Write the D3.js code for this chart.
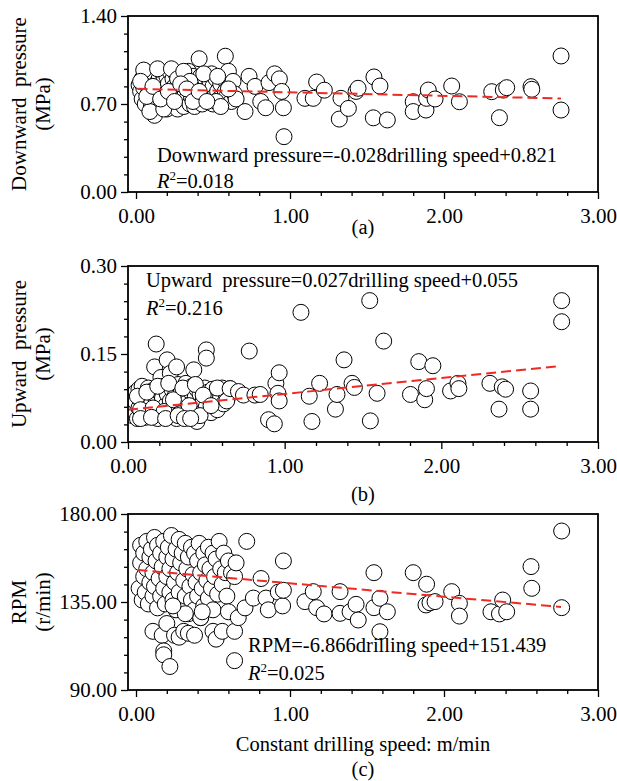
<!DOCTYPE html>
<html>
<head>
<meta charset="utf-8">
<script src="https://cdn.jsdelivr.net/npm/d3@7.9.0/dist/d3.min.js"></script>
<style>
  body { margin: 0; background: #fff; }
  svg text { font-family: "Liberation Serif", "Times New Roman", serif; fill: #000; }
</style>
</head>
<body>
<svg id="chart" width="617" height="781"></svg>
<script>
// [drilling speed (m/min), value]
const downward = [
  [0.02,0.85],[0.03,0.80],[0.04,0.90],[0.04,0.74],[0.05,0.83],[0.06,0.96],[0.06,0.70],[0.07,0.86],[0.08,0.78],[0.08,0.92],
  [0.09,0.82],[0.10,0.68],[0.10,0.88],[0.11,0.75],[0.12,0.94],[0.12,0.80],[0.12,0.61],[0.13,0.86],[0.14,0.72],[0.15,0.90],
  [0.15,0.78],[0.16,0.84],[0.17,0.95],[0.17,0.70],[0.18,0.88],[0.19,0.76],[0.19,0.82],[0.20,0.66],[0.20,0.92],[0.21,0.86],
  [0.22,0.74],[0.22,0.96],[0.23,0.80],[0.24,0.70],[0.24,0.90],[0.25,0.84],[0.26,0.76],[0.26,0.94],[0.27,0.66],[0.28,0.88],
  [0.28,0.80],[0.29,0.72],[0.30,0.92],[0.30,0.84],[0.31,0.68],[0.32,0.78],[0.32,0.88],[0.33,0.74],[0.34,0.96],[0.34,0.82],
  [0.35,0.70],[0.36,0.86],[0.36,0.76],[0.37,0.92],[0.38,0.80],[0.38,0.68],[0.39,0.88],[0.40,0.74],[0.40,0.84],[0.41,1.06],
  [0.42,0.78],[0.42,0.92],[0.43,0.70],[0.44,0.86],[0.45,0.76],[0.45,0.90],[0.46,0.82],[0.47,0.72],[0.48,0.88],[0.48,0.78],
  [0.49,0.94],[0.50,0.70],[0.50,0.84],[0.51,0.76],[0.52,0.90],[0.53,0.80],[0.54,0.74],[0.55,0.86],[0.56,0.70],[0.57,0.90],
  [0.58,1.08],[0.58,0.80],[0.59,0.76],[0.60,0.96],[0.61,0.84],[0.62,0.72],[0.63,0.88],[0.64,0.78],[0.65,0.74],[0.05,0.97],
  [0.09,0.64],[0.14,0.98],[0.18,0.66],[0.23,0.98],[0.27,0.90],[0.31,0.96],[0.35,0.88],[0.44,0.94],[0.52,0.72],[0.55,0.68],
  [0.60,0.82],[0.03,0.88],[0.07,0.76],[0.11,0.84],[0.16,0.74],[0.21,0.80],[0.25,0.72],[0.29,0.86],[0.33,0.82],[0.37,0.72],
  [0.41,0.80],[0.46,0.72],[0.53,0.92],
  [0.708,0.64],[0.734,0.92],[0.773,0.84],[0.81,0.72],[0.842,0.67],[0.864,0.87],[0.90,0.94],[0.931,0.90],[0.946,0.80],
  [0.957,0.67],[0.961,0.44],[1.097,0.745],[1.151,0.745],[1.173,0.875],[1.223,0.81],[1.32,0.58],[1.331,0.745],[1.379,0.665],
  [1.429,0.80],[1.442,0.825],[1.541,0.59],[1.545,0.915],[1.584,0.843],[1.632,0.573],[1.80,0.718],[1.80,0.64],[1.883,0.652],
  [1.887,0.745],[1.898,0.811],[1.942,0.74],[2.05,0.843],[2.10,0.718],[2.31,0.798],[2.36,0.591],[2.385,0.811],[2.407,0.83],
  [2.565,0.838],[2.57,0.817],[2.76,1.082],[2.76,0.652]
];

const upward = [
  [0.02,0.060],[0.03,0.045],[0.03,0.075],[0.04,0.052],[0.05,0.068],[0.05,0.085],[0.06,0.040],[0.07,0.058],[0.07,0.090],[0.08,0.072],
  [0.09,0.048],[0.09,0.095],[0.10,0.062],[0.11,0.080],[0.11,0.042],[0.12,0.070],[0.13,0.092],[0.13,0.055],[0.14,0.045],[0.15,0.078],
  [0.15,0.065],[0.16,0.088],[0.17,0.050],[0.17,0.128],[0.18,0.167],[0.18,0.072],[0.19,0.040],[0.20,0.085],[0.20,0.060],[0.21,0.110],
  [0.22,0.048],[0.22,0.075],[0.23,0.095],[0.24,0.062],[0.25,0.140],[0.25,0.082],[0.26,0.045],[0.27,0.117],[0.27,0.070],[0.28,0.090],
  [0.29,0.055],[0.30,0.078],[0.31,0.128],[0.31,0.040],[0.32,0.098],[0.33,0.065],[0.34,0.085],[0.35,0.050],[0.36,0.075],[0.37,0.100],
  [0.37,0.042],[0.38,0.068],[0.39,0.088],[0.40,0.058],[0.41,0.095],[0.42,0.123],[0.42,0.048],[0.43,0.078],[0.44,0.035],[0.44,0.090],
  [0.45,0.062],[0.46,0.082],[0.47,0.052],[0.48,0.070],[0.49,0.092],[0.50,0.157],[0.50,0.143],[0.50,0.060],[0.51,0.085],[0.52,0.075],
  [0.53,0.050],[0.54,0.090],[0.55,0.068],[0.56,0.080],[0.57,0.055],[0.58,0.088],[0.59,0.075],[0.60,0.092],[0.61,0.065],[0.62,0.085],
  [0.64,0.078],[0.65,0.091],[0.06,0.078],[0.08,0.055],[0.12,0.085],[0.16,0.058],[0.19,0.095],[0.23,0.052],[0.26,0.100],[0.29,0.072],
  [0.33,0.048],[0.35,0.092],[0.39,0.062],[0.43,0.098],[0.46,0.045],[0.48,0.080],[0.53,0.062],[0.57,0.092],[0.63,0.070],[0.08,0.040],
  [0.15,0.042],[0.24,0.040],[0.32,0.045],[0.36,0.040],[0.40,0.040],
  [0.652,0.091],[0.705,0.086],[0.737,0.080],[0.774,0.155],[0.81,0.080],[0.844,0.081],[0.897,0.038],[0.934,0.031],[0.944,0.100],
  [0.957,0.083],[0.965,0.118],[0.965,0.070],[1.104,0.221],[1.157,0.078],[1.174,0.035],[1.223,0.100],[1.324,0.056],[1.334,0.081],
  [1.379,0.140],[1.43,0.100],[1.445,0.093],[1.543,0.241],[1.547,0.036],[1.59,0.083],[1.632,0.172],[1.803,0.081],[1.856,0.137],
  [1.894,0.072],[1.905,0.091],[1.946,0.130],[2.059,0.087],[2.106,0.100],[2.112,0.091],[2.31,0.100],[2.368,0.056],[2.389,0.094],
  [2.41,0.090],[2.57,0.087],[2.57,0.056],[2.768,0.241],[2.768,0.205]
];

const rpm = [
  [0.02,142],[0.03,155],[0.03,164],[0.04,136],[0.05,148],[0.05,160],[0.06,140],[0.07,166],[0.07,152],[0.08,134],
  [0.09,158],[0.09,145],[0.10,162],[0.11,138],[0.11,150],[0.12,168],[0.12,143],[0.13,156],[0.14,132],[0.14,164],
  [0.15,147],[0.16,160],[0.16,138],[0.17,153],[0.18,166],[0.18,142],[0.19,134],[0.20,158],[0.20,148],[0.21,163],
  [0.22,140],[0.22,152],[0.23,169],[0.24,136],[0.24,157],[0.25,145],[0.26,162],[0.26,131],[0.27,150],[0.28,167],
  [0.28,140],[0.29,155],[0.30,134],[0.30,160],[0.31,146],[0.32,165],[0.32,138],[0.33,152],[0.34,129],[0.34,158],
  [0.35,143],[0.36,163],[0.36,136],[0.37,149],[0.38,160],[0.38,131],[0.39,145],[0.40,156],[0.40,138],[0.41,165],
  [0.42,127],[0.42,150],[0.43,142],[0.44,160],[0.44,133],[0.45,154],[0.46,146],[0.47,163],[0.47,137],[0.48,152],
  [0.49,142],[0.50,160],[0.50,131],[0.51,148],[0.52,157],[0.53,139],[0.54,166],[0.55,152],[0.56,144],[0.57,160],
  [0.58,150],[0.59,138],[0.60,156],[0.62,150],[0.64,148],[0.65,155],
  [0.11,120],[0.17,118],[0.20,124],[0.18,110],[0.18,108],[0.22,102],[0.25,118],[0.28,117],[0.31,120],[0.34,119],
  [0.38,118],[0.42,127],[0.43,130],[0.32,129],[0.24,133],[0.50,120],[0.52,116],[0.56,120],[0.60,130],[0.64,120],
  [0.64,105],[0.664,127],[0.708,132],[0.719,166],[0.762,137],[0.812,147],[0.844,137],[0.859,131],[0.924,140],[0.952,133],
  [0.957,141],[0.957,156],
  [1.097,135.2],[1.151,140.3],[1.173,132.1],[1.221,128.9],[1.325,140.3],[1.325,129.2],[1.39,130],[1.429,133.8],[1.443,125.8],
  [1.545,150],[1.545,132.1],[1.584,136.9],[1.584,119.8],[1.632,130],[1.80,150],[1.883,133.5],[1.887,144.1],[1.909,134.6],
  [1.942,135.2],[2.05,140.3],[2.10,134.3],[2.10,127.8],[2.305,130],[2.36,128.9],[2.381,136],[2.407,130],[2.565,153.1],
  [2.57,142],[2.764,171.3],[2.764,132.1]
];

const xMajor = [0, 1, 2, 3];

const panels = [
  { data: downward, top: 16, xMin: -0.052, yDomain: [0, 1.4], yMajor: [0, 0.7, 1.4], yMinorStep: 0.14,
    fit: [-0.028, 0.821], fitRange: [0.01, 2.76],
    title: ['Downward  pressure', '(MPa)'],
    eq: 'Downward pressure=-0.028drilling speed+0.821', eqLen: 400, r2: '=0.018', eqX: 157, eqY: 162, r2Y: 188,
    tag: '(a)', tagY: 234 },
  { data: upward, top: 266, xMin: 0, yDomain: [0, 0.3], yMajor: [0, 0.15, 0.3], yMinorStep: 0.03,
    fit: [0.027, 0.055], fitRange: [0, 2.76],
    title: ['Upward  pressure', '(MPa)'],
    eq: 'Upward  pressure=0.027drilling speed+0.055', r2: '=0.216', eqX: 146, eqY: 287, r2Y: 315,
    tag: '(b)', tagY: 501 },
  { data: rpm, top: 514, xMin: -0.052, yDomain: [90, 180], yMajor: [90, 135, 180], yMinorStep: 9,
    fit: [-6.866, 151.439], fitRange: [0.01, 2.76],
    title: ['RPM', '(r/min)'],
    eq: 'RPM=-6.866drilling speed+151.439', r2: '=0.025', eqX: 248, eqY: 652, r2Y: 680,
    tag: '(c)', tagY: 776 }
];

const svg = d3.select('#chart');
const left = 128, right = 598, plotH = 176;
const fs = 20.5;

panels.forEach((p, i) => {
  const bottom = p.top + plotH;
  const x = d3.scaleLinear().domain([p.xMin, 3]).range([left, right]);
  const y = d3.scaleLinear().domain(p.yDomain).range([bottom, p.top]);
  const g = svg.append('g');

  const clipId = 'clip' + i;
  svg.append('clipPath').attr('id', clipId)
    .append('rect').attr('x', left).attr('y', p.top).attr('width', right - left).attr('height', plotH);

  // points
  g.append('g').attr('clip-path', `url(#${clipId})`)
    .selectAll('circle')
    .data(p.data)
    .join('circle')
    .attr('cx', d => x(d[0]))
    .attr('cy', d => y(d[1]))
    .attr('r', 8)
    .attr('fill', '#fff')
    .attr('stroke', '#000')
    .attr('stroke-width', 1);

  // fit line
  const line = d3.line().x(d => x(d)).y(d => y(p.fit[0] * d + p.fit[1]));
  g.append('path')
    .attr('d', line(p.fitRange))
    .attr('fill', 'none')
    .attr('stroke', '#ee2a24')
    .attr('stroke-width', 2)
    .attr('stroke-dasharray', '10,5');

  // minor ticks
  const xMinor = d3.range(0, 3.001, 0.2).filter(v => !xMajor.some(m => Math.abs(m - v) < 1e-6));
  const yMinor = d3.range(p.yDomain[0], p.yDomain[1] + 1e-9, p.yMinorStep)
    .filter(v => !p.yMajor.some(m => Math.abs(m - v) < 1e-6));

  g.append('g').attr('transform', `translate(0,${bottom})`)
    .call(d3.axisBottom(x).tickValues(xMinor).tickSize(4).tickFormat(''));
  g.append('g').attr('transform', `translate(${left},0)`)
    .call(d3.axisLeft(y).tickValues(yMinor).tickSize(4).tickFormat(''));

  const xAxis = g.append('g').attr('transform', `translate(0,${bottom})`)
    .call(d3.axisBottom(x).tickValues(xMajor).tickSize(7).tickPadding(9).tickFormat(d3.format('.2f')));
  const yAxis = g.append('g').attr('transform', `translate(${left},0)`)
    .call(d3.axisLeft(y).tickValues(p.yMajor).tickSize(7).tickPadding(4).tickFormat(d3.format('.2f')));

  g.selectAll('.domain').remove();
  g.selectAll('.tick line').attr('stroke', '#000').attr('stroke-width', 1.3);
  [xAxis, yAxis].forEach(a => a.selectAll('text')
    .style('font-family', '"Liberation Serif", "Times New Roman", serif')
    .style('font-size', '21px'));
  xAxis.selectAll('text').attr('dy', '0.71em');

  // frame
  g.append('rect')
    .attr('x', left).attr('y', p.top)
    .attr('width', right - left).attr('height', plotH)
    .attr('fill', 'none').attr('stroke', '#000').attr('stroke-width', 1.8);

  // axis titles
  const cy = p.top + plotH / 2;
  g.append('text')
    .attr('transform', `translate(26,${cy}) rotate(-90)`)
    .attr('text-anchor', 'middle')
    .style('font-size', '21px')
    .style('white-space', 'pre')
    .text(p.title[0]);
  g.append('text')
    .attr('transform', `translate(50,${cy}) rotate(-90)`)
    .attr('text-anchor', 'middle')
    .style('font-size', '21px')
    .text(p.title[1]);

  // equation
  const eq = g.append('text')
    .attr('x', p.eqX).attr('y', p.eqY)
    .style('font-size', fs + 'px')
    .style('white-space', 'pre')
    .text(p.eq);
  if (p.eqLen) eq.attr('textLength', p.eqLen).attr('lengthAdjust', 'spacing');
  const r = g.append('text')
    .attr('x', p.eqX).attr('y', p.r2Y)
    .style('font-size', fs + 'px');
  r.append('tspan').style('font-style', 'italic').text('R');
  r.append('tspan').attr('dy', -8).style('font-size', '13px').text('2');
  r.append('tspan').attr('dy', 8).text(p.r2);

  // panel tag
  g.append('text')
    .attr('x', (left + right) / 2).attr('y', p.tagY)
    .attr('text-anchor', 'middle')
    .style('font-size', fs + 'px')
    .text(p.tag);
});

svg.append('text')
  .attr('x', (left + right) / 2).attr('y', 751)
  .attr('text-anchor', 'middle')
  .style('font-size', fs + 'px')
  .text('Constant drilling speed: m/min');
</script>
</body>
</html>
